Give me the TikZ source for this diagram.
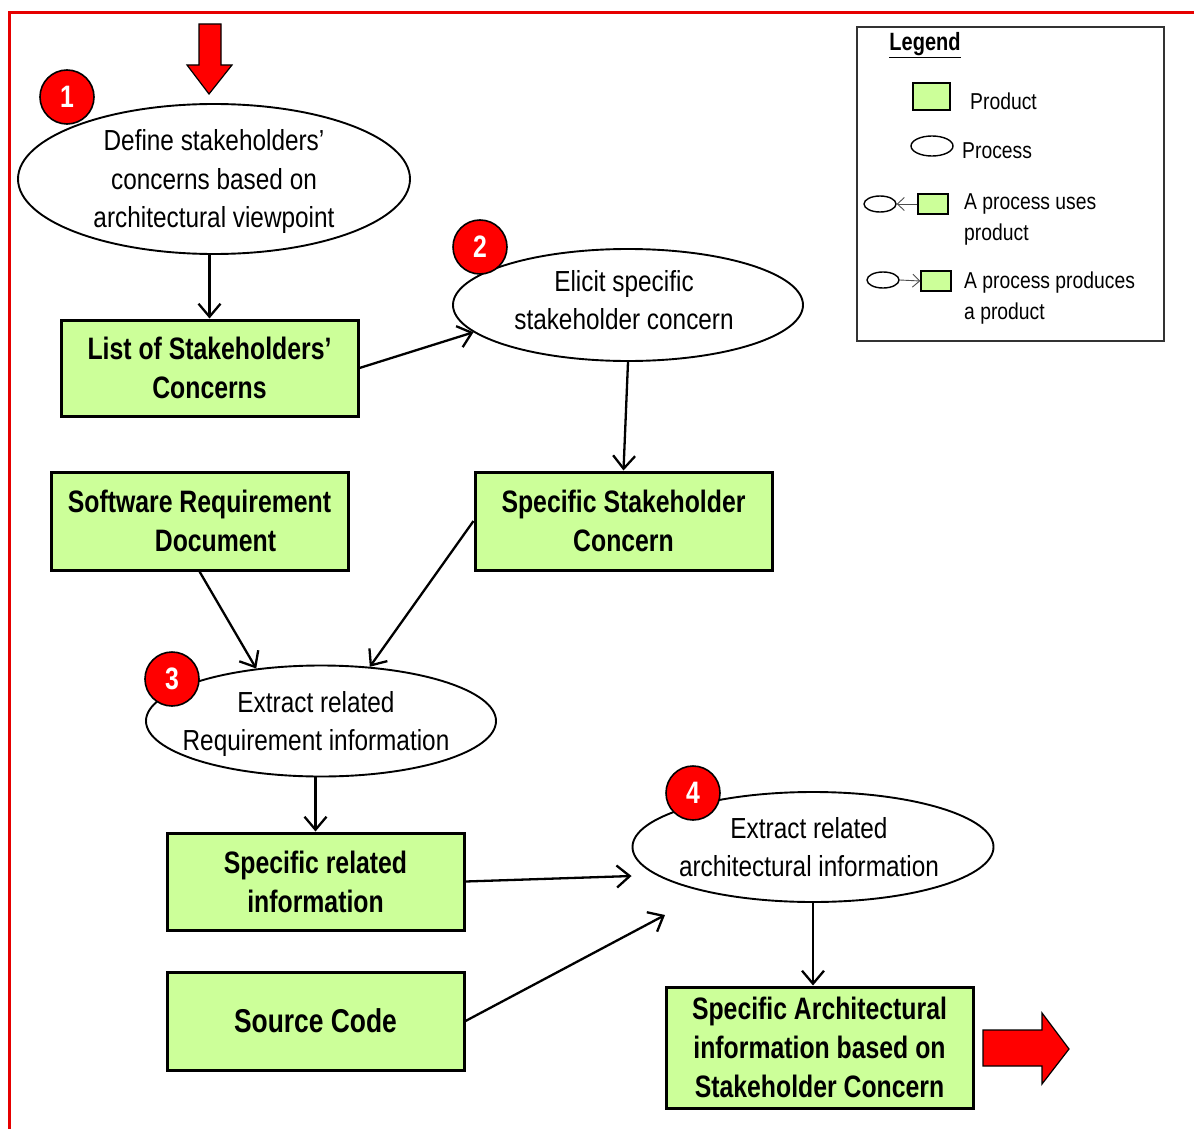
\documentclass[tikz,border=0pt]{standalone}
\usepackage{fontspec}
\setmainfont{Liberation Sans}[FakeStretch=0.84, BoldFeatures={FakeStretch=0.80}]
\usetikzlibrary{arrows.meta,shapes.geometric}
\definecolor{prodgreen}{RGB}{204,255,153}
\definecolor{bordred}{RGB}{230,0,0}
\tikzset{
  procshape/.style={draw=black, line width=1.9pt, ellipse, inner sep=0pt},
  proctext/.style={align=center, font=\fontsize{29}{38.5}\selectfont, inner sep=0pt},
  prodbox/.style={draw=black, line width=3pt, fill=prodgreen, rectangle, inner sep=0pt, align=center,
     font=\bfseries\fontsize{31}{39}\selectfont},
  numcirc/.style={circle, fill=red, draw=black, line width=1.6pt, minimum size=54pt, inner sep=0pt,
     text=white, font=\bfseries\fontsize{31}{31}\selectfont},
  arr/.style={line width=2.3pt, -{Straight Barb[length=13pt,width=22pt,line width=2.3pt]}},
  bigarrow/.style={fill=red, draw=black, line width=1.2pt, line join=miter},
  legtext/.style={font=\fontsize{23}{31}\selectfont, align=left, anchor=west, inner sep=0pt},
  legbox/.style={draw=black, line width=1.4pt, fill=prodgreen, rectangle, inner sep=0pt},
  legell/.style={draw=black, line width=1.4pt, ellipse, inner sep=0pt},
  legarr/.style={line width=0.9pt, black!70, -{Straight Barb[length=7pt,width=13pt,line width=0.9pt]}},
}
\begin{document}
\begin{tikzpicture}[x=1pt,y=-1pt]
\useasboundingbox (0,0) rectangle (1194,1129);
% red frame
\draw[bordred, line width=3pt] (9,1129) -- (9,13) -- (1194,13);

% processes
\node[procshape, minimum width=392pt, minimum height=150pt] (e1) at (214,179) {};
\node[proctext] (t1) at ([yshift=-3pt]e1.center) {Define stakeholders’\\concerns based on\\architectural viewpoint};
\node[procshape, minimum width=350pt, minimum height=112pt] (e2) at (628,305) {};
\node[proctext] (t2) at ([xshift=-4pt,yshift=5pt]e2.center) {Elicit specific\\stakeholder concern};
\node[procshape, minimum width=350pt, minimum height=111pt] (e3) at (321,721) {};
\node[proctext] (t3) at ([xshift=-5pt,yshift=-3pt]e3.center) {Extract related\\Requirement information};
\node[procshape, minimum width=361pt, minimum height=110pt] (e4) at (813,847) {};
\node[proctext] (t4) at ([xshift=-4pt]e4.center) {Extract related\\architectural information};

% products
\node[prodbox, minimum width=297pt, minimum height=96pt] (b1) at (209.5,368) {List of Stakeholders’\\Concerns};
\node[prodbox, minimum width=297pt, minimum height=98pt] (b2) at (623.5,521) {Specific Stakeholder\\Concern};
\node[prodbox, minimum width=297pt, minimum height=98pt] (b3) at (199.5,521) {Software Requirement\\\hspace*{32pt}Document};
\node[prodbox, minimum width=297pt, minimum height=97pt] (b4) at (315.5,881.5) {Specific related\\information};
\node[prodbox, minimum width=297pt, minimum height=98pt, font=\bfseries\fontsize{33}{39}\selectfont] (b5) at (315.5,1021) {Source Code};
\node[prodbox, minimum width=307pt, minimum height=121pt] (b6) at (819.5,1047.5) {Specific Architectural\\information based on\\Stakeholder Concern};

% numbers
\node[numcirc] (n1) at (67,97) {1};
\node[numcirc] (n2) at (480,247) {2};
\node[numcirc] (n3) at (172,679) {3};
\node[numcirc] (n4) at (693,793) {4};

% connectors
\draw[arr] (e1.south -| b1.north) -- (b1.north);
\draw[arr] (b1.east) -- (e2.190);
\draw[arr] (e2.south) -- (b2.north);
\draw[arr] (b3.south) -- (e3.141);
\draw[arr] (b2.west) -- (e3.48);
\draw[arr] (e3.south -| b4.north) -- (b4.north);
\draw[arr] (b4.east) -- ([yshift=-29pt]e4.west);
\draw[arr] (b5.east) -- ([xshift=-148pt,yshift=-68pt]e4.center);
\draw[arr] (e4.south) -- (e4.south |- b6.north);

% big red arrows
\draw[bigarrow] (199,24) -- (221,24) -- (221,65) -- (232,65) -- (209,94) -- (187,65) -- (199,65) -- cycle;
\draw[bigarrow] (983,1030) -- (1042,1030) -- (1042,1013) -- (1069,1049) -- (1042,1084) -- (1042,1066) -- (983,1066) -- cycle;

% legend
\node[draw=black!80, line width=1.8pt, minimum width=307pt, minimum height=314pt, inner sep=0pt] (leg) at (1010.5,184) {};
\node[font=\bfseries\fontsize{25}{25}\selectfont, inner sep=0pt] (legt) at (925,45) {\underline{Legend}};
\node[legbox, minimum width=37pt, minimum height=27pt] (lp) at (931.5,96.5) {};
\node[legtext] (lpt) at (970,101) {Product};
\node[legell, minimum width=42pt, minimum height=20pt] (lc) at (932,146) {};
\node[legtext] (lct) at (962,151) {Process};
\node[legell, minimum width=32pt, minimum height=16pt] (lu1) at (880,204) {};
\node[legbox, minimum width=30pt, minimum height=20pt] (lu2) at (933,204) {};
\draw[legarr] (lu2.west) -- (lu1.east);
\node[legtext] (lut) at (964,219) {A process uses\\product};
\node[legell, minimum width=32pt, minimum height=16pt] (lr1) at (883,280) {};
\node[legbox, minimum width=30pt, minimum height=20pt] (lr2) at (936,281) {};
\draw[legarr] (lr1.east) -- (lr2.west);
\node[legtext] (lrt) at (964,298) {A process produces\\a product};
\end{tikzpicture}
\end{document}
